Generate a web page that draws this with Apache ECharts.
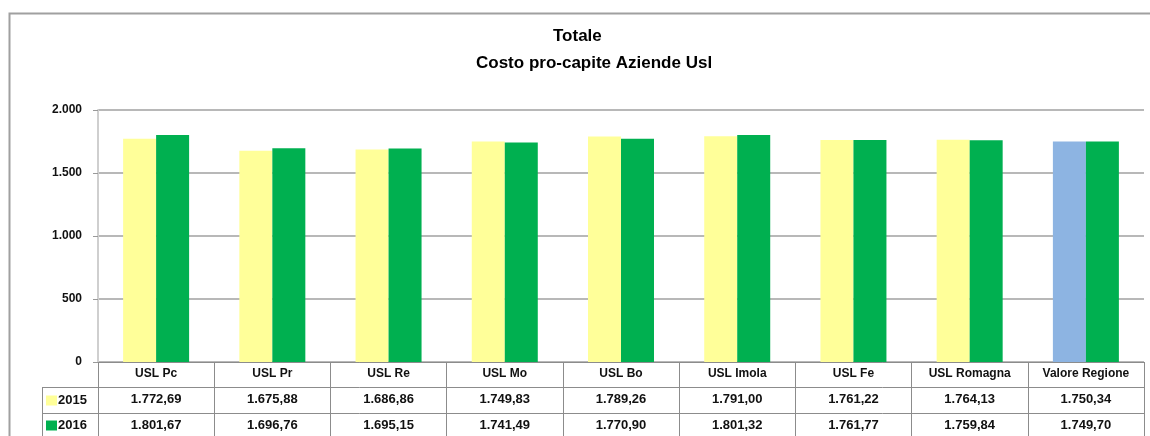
<!DOCTYPE html>
<html>
<head>
<meta charset="utf-8">
<script src="https://cdn.jsdelivr.net/npm/echarts@6/dist/echarts.min.js"></script>
<style>
  html, body { margin: 0; padding: 0; background: #fff; }
  #chart { width: 1150px; height: 436px; }
</style>
</head>
<body>
<div id="chart"></div>
<script>
// dati
const categories = ['USL Pc', 'USL Pr', 'USL Re', 'USL Mo', 'USL Bo', 'USL Imola', 'USL Fe', 'USL Romagna', 'Valore Regione'];
const years = ['2015', '2016'];
const values2015 = [1772.69, 1675.88, 1686.86, 1749.83, 1789.26, 1791.00, 1761.22, 1764.13, 1750.34];
const values2016 = [1801.67, 1696.76, 1695.15, 1741.49, 1770.90, 1801.32, 1761.77, 1759.84, 1749.70];
const yTicks = [0, 500, 1000, 1500, 2000];

const FONT = 'Liberation Sans, Arial, sans-serif';
const LINE = '#8c8c8c';

// formato italiano: 1.772,69
function fmt(v, d) {
  const parts = v.toFixed(d).split('.');
  const intPart = parts[0].replace(/\B(?=(\d{3})+(?!\d))/g, '.');
  return d ? intPart + ',' + parts[1] : intPart;
}

const chart = echarts.init(document.getElementById('chart'));

// l'ultima colonna del 2015 e' azzurra
const data2015 = values2015.map((v, i) =>
  i === categories.length - 1 ? { value: v, itemStyle: { color: '#8DB4E2' } } : v);

const tableAxis = (offset, vals) => ({
  type: 'category',
  data: categories,
  position: 'bottom',
  offset: offset,
  axisLine: { show: true, lineStyle: { color: LINE, width: 1 } },
  axisTick: { show: false },
  axisLabel: {
    interval: 0, margin: 6, color: '#111', fontFamily: FONT, fontWeight: 'bold', fontSize: 13,
    formatter: (val, idx) => fmt(vals[idx], 2)
  }
});

chart.setOption({
  animation: false,
  title: [
    { text: 'Totale', left: 553, top: 28, padding: 0,
      textStyle: { fontFamily: FONT, fontWeight: 'bold', fontSize: 17, color: '#000' } },
    { text: 'Costo pro-capite Aziende Usl', left: 476, top: 55, padding: 0,
      textStyle: { fontFamily: FONT, fontWeight: 'bold', fontSize: 17, color: '#000' } }
  ],
  legend: {
    data: years,
    orient: 'vertical',
    left: 46, top: 394,
    icon: 'rect',
    itemWidth: 11, itemHeight: 10, itemGap: 12,
    padding: 0,
    textStyle: { fontFamily: FONT, fontWeight: 'bold', fontSize: 13, color: '#111', padding: [0, 0, 0, -4] }
  },
  grid: { left: 98, right: 6, top: 110, bottom: 74 },
  xAxis: [
    {
      type: 'category',
      data: categories,
      position: 'bottom',
      axisLine: { show: true, lineStyle: { color: LINE, width: 1 } },
      axisTick: { show: true, interval: 0, length: 74, lineStyle: { color: LINE, width: 1 } },
      axisLabel: { interval: 0, margin: 6, color: '#111', fontFamily: FONT, fontWeight: 'bold', fontSize: 12 }
    },
    tableAxis(25, values2015),
    tableAxis(51, values2016)
  ],
  yAxis: {
    type: 'value',
    min: yTicks[0], max: yTicks[yTicks.length - 1], interval: 500,
    axisLine: { show: true, lineStyle: { color: '#cfcfcf', width: 2 } },
    axisTick: { show: true, length: 5, lineStyle: { color: '#999' } },
    axisLabel: { margin: 16, color: '#111', fontFamily: FONT, fontWeight: 'bold', fontSize: 12,
      formatter: v => fmt(v, 0) },
    splitLine: { lineStyle: { color: '#a0a0a0', width: 1.5 } }
  },
  series: [
    { name: years[0], type: 'bar', data: data2015, barWidth: 33, barGap: 0,
      itemStyle: { color: '#FFFF99' } },
    { name: years[1], type: 'bar', data: values2016, barWidth: 33,
      itemStyle: { color: '#00B050' } }
  ],
  graphic: [
    // cornice esterna
    { type: 'rect', shape: { x: 9.5, y: 13.5, width: 1300, height: 600 }, silent: true,
      style: { fill: 'none', stroke: '#a0a0a0', lineWidth: 2 } },
    // intestazione righe della tabella
    { type: 'line', shape: { x1: 42, y1: 387.5, x2: 98, y2: 387.5 }, style: { stroke: LINE, lineWidth: 1 } },
    { type: 'line', shape: { x1: 42, y1: 413.5, x2: 98, y2: 413.5 }, style: { stroke: LINE, lineWidth: 1 } },
    { type: 'line', shape: { x1: 42.5, y1: 387, x2: 42.5, y2: 436 }, style: { stroke: LINE, lineWidth: 1 } }
  ]
});
</script>
</body>
</html>
